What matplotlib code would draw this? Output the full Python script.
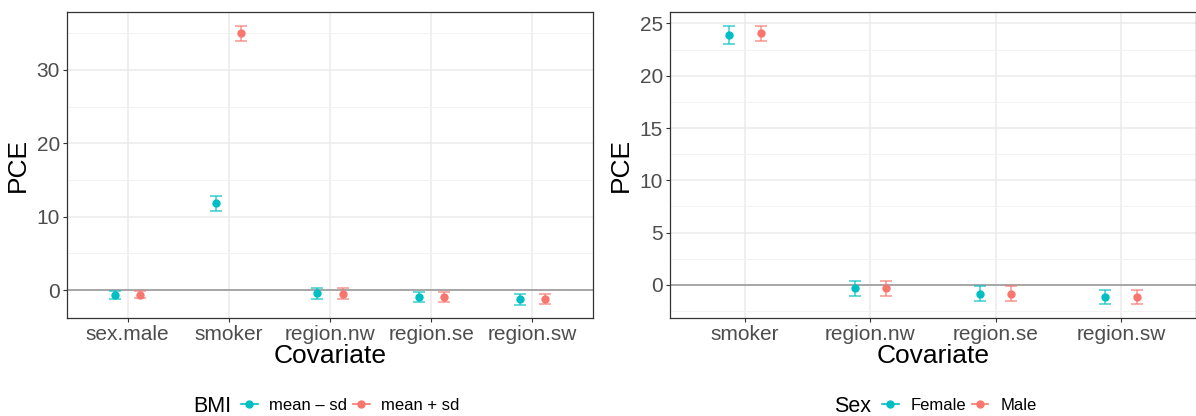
import matplotlib
matplotlib.use("Agg")
import matplotlib.pyplot as plt
from matplotlib.lines import Line2D
from matplotlib.ticker import MultipleLocator

# ---- data ----
bmi_cats = ["sex.male", "smoker", "region.nw", "region.se", "region.sw"]
bmi_low_est = [-0.6, 11.9, -0.46, -0.94, -1.2]
bmi_low_lo = [-1.15, 10.8, -1.17, -1.64, -1.97]
bmi_low_hi = [-0.12, 12.8, 0.25, -0.23, -0.56]
bmi_high_est = [-0.6, 35.0, -0.5, -0.94, -1.2]
bmi_high_lo = [-1.1, 33.9, -1.2, -1.64, -1.95]
bmi_high_hi = [-0.1, 36.0, 0.25, -0.23, -0.56]
bmi_labels = ["mean \u2013 sd", "mean + sd"]

sex_cats = ["smoker", "region.nw", "region.se", "region.sw"]
female_est = [23.9, -0.34, -0.84, -1.16]
female_lo = [23.0, -1.06, -1.59, -1.88]
female_hi = [24.74, 0.34, -0.15, -0.48]
male_est = [24.05, -0.34, -0.84, -1.14]
male_lo = [23.3, -1.06, -1.55, -1.85]
male_hi = [24.8, 0.34, -0.15, -0.46]
sex_labels = ["Female", "Male"]

BLUE = "#00BFC4"
RED = "#F8766D"
DODGE = 0.125

plt.rcParams["font.family"] = ["Liberation Sans", "DejaVu Sans"]


def draw_panel(ax, cats, series, ylim, major, minor):
    """ggplot 風 (theme_bw) の pointrange パネル"""
    xs = list(range(1, len(cats) + 1))
    ax.axhline(0, color="#9a9a9a", lw=1.2, zorder=1)
    for (est, lo, hi, color), off in zip(series, [-DODGE, DODGE]):
        px = [x + off for x in xs]
        yerr = [[e - l for e, l in zip(est, lo)], [h - e for e, h in zip(est, hi)]]
        ax.errorbar(px, est, yerr=yerr, fmt="none", ecolor=color, elinewidth=1.2,
                    capsize=4.3, capthick=1.2, alpha=0.7, zorder=3)
        ax.plot(px, est, "o", color=color, ms=5, zorder=4)
    ax.set_xlim(0.4, len(cats) + 0.6)
    ax.set_ylim(*ylim)
    ax.set_xticks(xs)
    ax.set_xticklabels(cats)
    ax.yaxis.set_major_locator(MultipleLocator(major))
    ax.yaxis.set_minor_locator(MultipleLocator(minor))
    ax.grid(True, which="major", color="#EBEBEB", lw=1.1, zorder=0)
    ax.grid(True, which="minor", axis="y", color="#F2F2F2", lw=0.7, zorder=0)
    ax.set_axisbelow(True)
    ax.tick_params(which="major", labelsize=15, labelcolor="#4D4D4D",
                   color="#333333", length=3, width=0.8, pad=2)
    ax.tick_params(which="minor", length=0)
    for s in ax.spines.values():
        s.set_color("#333333")
        s.set_linewidth(0.9)
    ax.set_xlabel("Covariate", fontsize=19, labelpad=0)
    ax.set_ylabel("PCE", fontsize=19, labelpad=5)


def bottom_legend(fig, title, labels, x_title, x_keys):
    handles = [Line2D([0], [0], color=c, marker="o", ms=5, lw=1.2)
               for c in (BLUE, RED)]
    fig.text(x_title / 1196, 1 - 406 / 416, title, fontsize=15.5,
             ha="right", va="center")
    fig.legend(handles, labels, loc="center left",
               bbox_to_anchor=(x_keys / 1196, 1 - 405 / 416), ncol=2,
               frameon=False, fontsize=12, handlelength=1.0,
               handletextpad=0.7, columnspacing=0.35, borderpad=0,
               borderaxespad=0)


fig = plt.figure(figsize=(11.96, 4.16), dpi=100)
ax1 = fig.add_axes([67 / 1196, 1 - 318 / 416, 526 / 1196, 306 / 416])
ax2 = fig.add_axes([670 / 1196, 1 - 318 / 416, 526 / 1196, 306 / 416])

draw_panel(ax1, bmi_cats,
           [(bmi_low_est, bmi_low_lo, bmi_low_hi, BLUE),
            (bmi_high_est, bmi_high_lo, bmi_high_hi, RED)],
           (-3.8, 37.9), 10, 5)
draw_panel(ax2, sex_cats,
           [(female_est, female_lo, female_hi, BLUE),
            (male_est, male_lo, male_hi, RED)],
           (-3.18, 26.1), 5, 2.5)

bottom_legend(fig, "BMI", bmi_labels, 231, 241)
bottom_legend(fig, "Sex", sex_labels, 871, 882)

fig.savefig("out.png", dpi=100)
